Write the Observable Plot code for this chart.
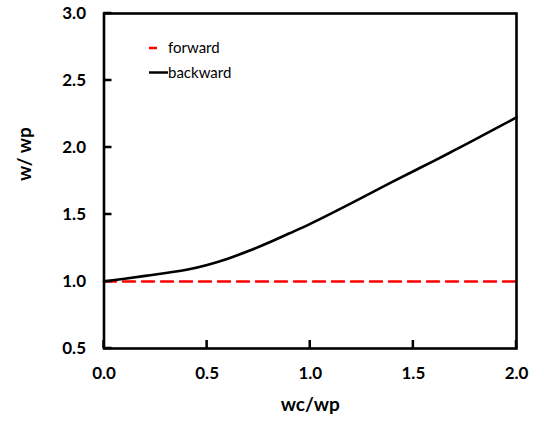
<!DOCTYPE html>
<html>
<head>
<meta charset="utf-8">
<script src="https://cdn.jsdelivr.net/npm/d3@7"></script>
<script src="https://cdn.jsdelivr.net/npm/@observablehq/plot@0.6"></script>
<style>
  html, body { margin: 0; padding: 0; background: #fff; }
  #chart { position: relative; width: 544px; height: 429px; }
</style>
</head>
<body>
<div id="chart"></div>
<script>
const xValues = [0, 0.1, 0.2, 0.3, 0.4, 0.5, 0.6, 0.7, 0.8, 0.9, 1.0, 1.1, 1.2, 1.3, 1.4, 1.5, 1.6, 1.7, 1.8, 1.9, 2.0];
const backward = [1.0, 1.021, 1.042, 1.063, 1.087, 1.123, 1.170, 1.227, 1.291, 1.36, 1.43, 1.506, 1.585, 1.665, 1.745, 1.823, 1.90, 1.98, 2.06, 2.142, 2.225];
const forward = [1.0, 1.0];
const forwardX = [0, 2.0];
const xTicks = [0.0, 0.5, 1.0, 1.5, 2.0];
const yTicks = [0.5, 1.0, 1.5, 2.0, 2.5, 3.0];
const seriesNames = ["forward", "backward"];
const seriesColors = ["#ff0000", "#000000"];

const backData = xValues.map((x, i) => ({x, y: backward[i]}));
const fwdData = forwardX.map((x, i) => ({x, y: forward[i]}));

const font = "Lato, 'Open Sans', sans-serif";

const plot = Plot.plot({
  width: 544,
  height: 429,
  marginLeft: 103.5,
  marginRight: 28,
  marginTop: 13,
  marginBottom: 81,
  style: {fontFamily: font, background: "#fff", color: "#000"},
  x: {domain: [0, 2], ticks: xTicks},
  y: {domain: [0.5, 3], ticks: yTicks},
  marks: [
    Plot.line(fwdData, {x: "x", y: "y", stroke: seriesColors[0], strokeWidth: 2.5, strokeDasharray: "12,7"}),
    Plot.line(backData, {x: "x", y: "y", stroke: seriesColors[1], strokeWidth: 2.6, curve: "natural"}),
    Plot.frame({stroke: "#000", strokeWidth: 2.6}),
    Plot.axisX(xTicks, {tickSize: 0, tickPadding: 18, label: null, tickFormat: d3.format(".1f"), fontSize: 17, fontWeight: "bold", fill: "#000"}),
    Plot.axisY(yTicks, {tickSize: 0, tickPadding: 18, label: null, tickFormat: d3.format(".1f"), fontSize: 17, fontWeight: "bold", fill: "#000"}),
    Plot.text(["wc/wp"], {frameAnchor: "bottom", dy: 62, fontSize: 19, fontWeight: "bold", fill: "#000"}),
    Plot.text(["w/ wp"], {frameAnchor: "left", dx: -79, rotate: -90, fontSize: 19, fontWeight: "bold", fill: "#000"})
  ]
});

document.getElementById("chart").appendChild(plot);

const svg = d3.select(plot);
const sx = plot.scale("x"), sy = plot.scale("y");
const xr0 = sx.range[0], yr0 = sy.range[0];
const tickLen = 8;

// inward ticks, positioned through Plot's own scales
const tg = svg.append("g").attr("fill", "#000").attr("stroke", "none");
xTicks.forEach(v => {
  const px = sx.apply(v);
  tg.append("rect").attr("x", px - 1.25).attr("width", 2.5).attr("y", yr0 - tickLen).attr("height", tickLen);
});
yTicks.forEach(v => {
  const py = sy.apply(v);
  tg.append("rect").attr("x", xr0).attr("width", tickLen).attr("y", py - 1.25).attr("height", 2.5);
});

// legend inside the plot area
const lg = svg.append("g").attr("font-family", font).attr("font-size", 15).attr("text-anchor", "start");
const legendRows = [
  {name: seriesNames[0], color: seriesColors[0], x1: 149, x2: 157, y: 48},
  {name: seriesNames[1], color: seriesColors[1], x1: 149, x2: 168, y: 72.5}
];
legendRows.forEach(r => {
  lg.append("line").attr("x1", r.x1).attr("x2", r.x2).attr("y1", r.y).attr("y2", r.y)
    .attr("stroke", r.color).attr("stroke-width", 2.5);
  lg.append("text").attr("x", 168).attr("y", r.y).attr("dy", "0.35em")
    .attr("text-anchor", "start").attr("fill", "#000").text(r.name);
});
</script>
</body>
</html>
